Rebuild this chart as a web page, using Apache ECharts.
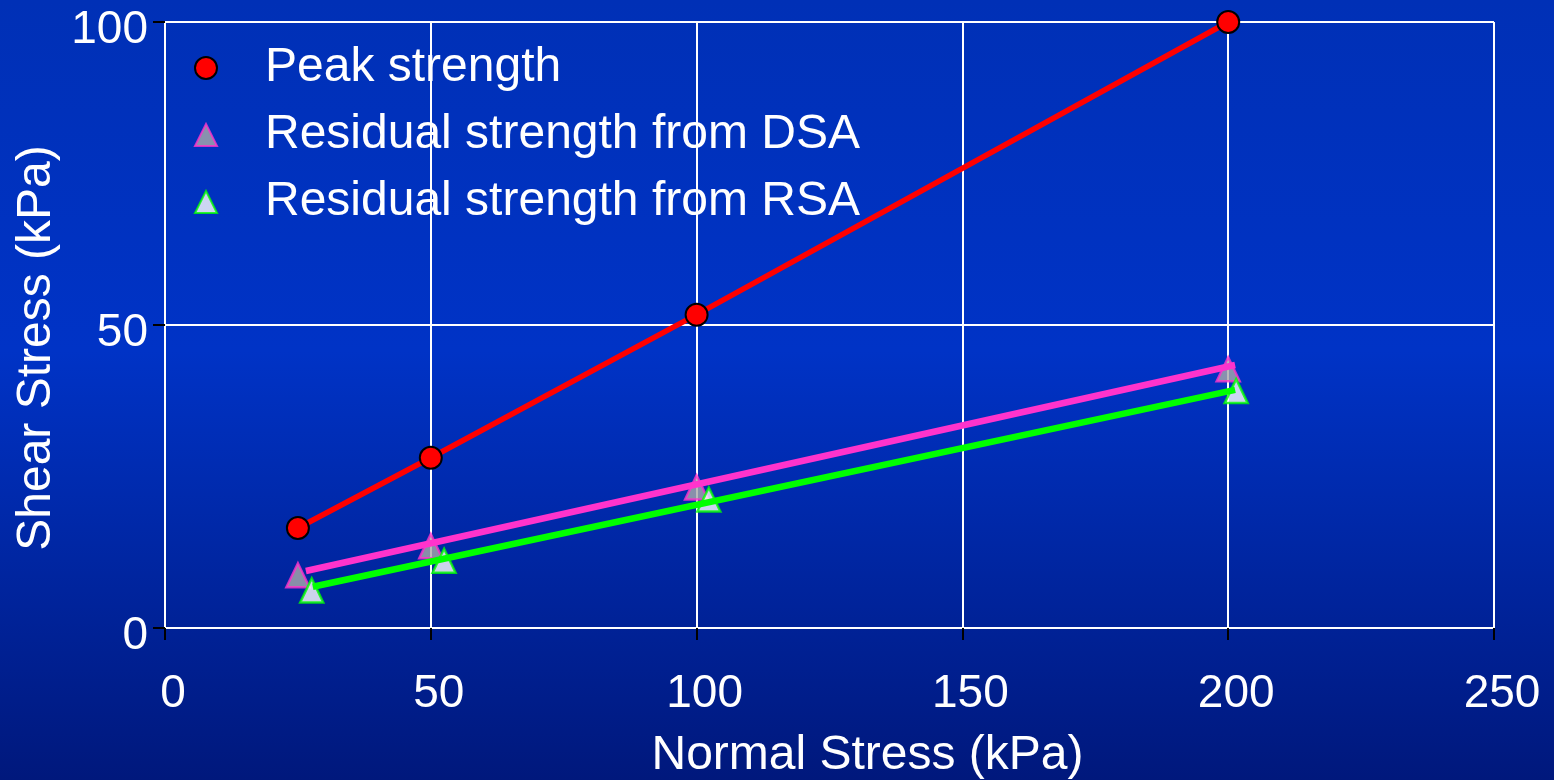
<!DOCTYPE html>
<html>
<head>
<meta charset="utf-8">
<script src="https://cdn.jsdelivr.net/npm/echarts@6/dist/echarts.min.js"></script>
<style>
html,body{margin:0;padding:0;width:1554px;height:780px;overflow:hidden;}
#chart{width:1554px;height:780px;}
</style>
</head>
<body>
<div id="chart"></div>
<script>
// Data
var xTicks = [0, 50, 100, 150, 200, 250];
var yTicks = [0, 50, 100];

var peakX = [25, 50, 100, 200];
var peakY = [16.5, 28.1, 51.7, 100];

var dsaX = [25, 50, 100, 200];
var dsaY = [8.7, 13.5, 23.2, 42.7];
var dsaFitX = [26.5, 201.3];
var dsaFitY = [9.4, 43.4];

var rsaX = [27.6, 52.5, 102.3, 201.5];
var rsaY = [6.2, 11.1, 21.2, 39.1];
var rsaFitX = [27.8, 201.3];
var rsaFitY = [6.8, 39.3];

var seriesNames = ['Peak strength', 'Residual strength from DSA', 'Residual strength from RSA'];

function pairs(xs, ys) { return xs.map(function (x, i) { return [x, ys[i]]; }); }

var FONT = "'Liberation Sans', Arial, Helvetica, sans-serif";
var chart = echarts.init(document.getElementById('chart'));
chart.setOption({
  animation: false,
  backgroundColor: {
    type: 'linear', x: 0, y: 0, x2: 0, y2: 1,
    colorStops: [
      { offset: 0, color: '#0030b6' },
      { offset: 0.45, color: '#0033c6' },
      { offset: 1, color: '#00187c' }
    ]
  },
  textStyle: { fontFamily: FONT },
  grid: { left: 165, right: 60, top: 22, bottom: 152, containLabel: false, outerBoundsMode: 'none' },
  legend: {
    orient: 'vertical',
    left: 189, top: 39,
    itemWidth: 22, itemHeight: 22,
    itemGap: 19,
    textStyle: { color: '#ffffff', fontSize: 48, fontFamily: FONT, padding: [0, 0, 0, 43] },
    data: [
      { name: seriesNames[0], icon: 'circle' },
      { name: seriesNames[1], icon: 'triangle' },
      { name: seriesNames[2], icon: 'triangle' }
    ]
  },
  xAxis: {
    type: 'value', min: xTicks[0], max: xTicks[xTicks.length - 1], interval: 50,
    name: 'Normal Stress (kPa)', nameLocation: 'middle', nameGap: 104,
    nameTextStyle: { color: '#ffffff', fontSize: 48, fontFamily: FONT, padding: [0, 0, 0, 76] },
    axisLine: { show: true, lineStyle: { color: '#ffffff', width: 2 } },
    axisTick: { show: true, length: 12, lineStyle: { color: '#000000', width: 2 } },
    axisLabel: { color: '#ffffff', fontSize: 46, fontFamily: FONT, margin: 43, padding: [0, 0, 0, 16] },
    splitLine: { show: true, lineStyle: { color: '#ffffff', width: 2 } }
  },
  yAxis: {
    type: 'value', min: yTicks[0], max: yTicks[yTicks.length - 1], interval: 50,
    name: 'Shear Stress (kPa)', nameLocation: 'middle', nameGap: 100,
    nameTextStyle: { color: '#ffffff', fontSize: 48, fontFamily: FONT, padding: [0, 46, 0, 0] },
    axisLine: { show: true, lineStyle: { color: '#ffffff', width: 2 } },
    axisTick: { show: true, length: 12, lineStyle: { color: '#000000', width: 2 } },
    axisLabel: {
      color: '#ffffff', fontSize: 46, fontFamily: FONT, margin: 17,
      formatter: function (v) { return '{t|' + v + '}'; },
      rich: { t: { color: '#ffffff', fontSize: 46, fontFamily: FONT, lineHeight: 62, verticalAlign: 'bottom' } }
    },
    splitLine: { show: true, lineStyle: { color: '#ffffff', width: 2 } }
  },
  series: [
    {
      name: seriesNames[1], type: 'scatter', symbol: 'triangle', symbolSize: [23, 24],
      itemStyle: { color: '#aaaaaa', borderColor: '#ff33cc', borderWidth: 2.5 },
      data: pairs(dsaX, dsaY), z: 2
    },
    {
      name: seriesNames[2], type: 'scatter', symbol: 'triangle', symbolSize: [23, 24],
      itemStyle: { color: '#ffffff', borderColor: '#00ff00', borderWidth: 2.5 },
      data: pairs(rsaX, rsaY), z: 2
    },
    {
      name: 'DSA fit', type: 'line', showSymbol: false, symbol: 'none',
      lineStyle: { color: '#ff33cc', width: 6.5 },
      data: pairs(dsaFitX, dsaFitY), z: 3
    },
    {
      name: 'RSA fit', type: 'line', showSymbol: false, symbol: 'none',
      lineStyle: { color: '#00ff00', width: 6.5 },
      data: pairs(rsaFitX, rsaFitY), z: 3
    },
    {
      name: seriesNames[0], type: 'line', symbol: 'circle', symbolSize: 22, showSymbol: true,
      lineStyle: { color: '#ff0000', width: 5.5 },
      itemStyle: { color: '#ff0000', borderColor: '#000000', borderWidth: 2 },
      data: pairs(peakX, peakY), z: 4
    }
  ]
});
</script>
</body>
</html>
